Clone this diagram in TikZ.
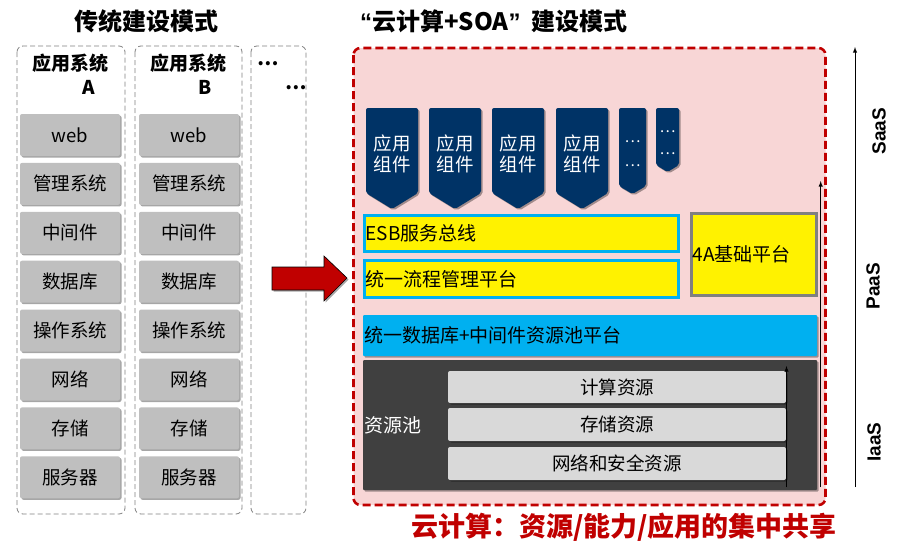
\documentclass[tikz,border=0pt]{standalone}
\usepackage{fontspec}
\setmainfont{Noto Sans CJK SC}
\newfontfamily\lat{Liberation Sans}
\usetikzlibrary{shadows}

\definecolor{boxgray}{RGB}{191,191,191}
\definecolor{edgegray}{RGB}{128,128,128}
\definecolor{cloudpink}{RGB}{248,214,214}
\definecolor{cloudred}{RGB}{192,0,0}
\definecolor{compnavy}{RGB}{0,51,102}
\definecolor{skyblue}{RGB}{0,176,240}
\definecolor{poolgray}{RGB}{64,64,64}
\definecolor{resgray}{RGB}{217,217,217}

\begin{document}
\begin{tikzpicture}[x=1pt,y=-1pt,
  softshadow/.style={drop shadow={shadow xshift=1.5pt,shadow yshift=-1.5pt,opacity=0.35,fill=black}},
  colbox/.style={draw=edgegray,line width=0.8pt,dash pattern=on 5pt off 3pt,rounded corners=6pt},
  cell/.style={fill=boxgray,minimum width=100pt,minimum height=42pt,inner sep=0pt,rounded corners=2pt,softshadow,font=\fontsize{18.5}{20}\selectfont},
  head/.style={inner sep=0pt,font=\bfseries\fontsize{19}{20}\selectfont},
  title/.style={inner sep=0pt,font=\bfseries\fontsize{24}{26}\selectfont},
  comp/.style={fill=compnavy,rounded corners=2pt,softshadow},
  comptext/.style={text=white,align=center,inner sep=0pt,font=\fontsize{18.5}{21}\selectfont},
  bar/.style={inner xsep=1pt,inner ysep=0pt,align=left,softshadow,font=\fontsize{19}{21}\selectfont},
  layer/.style={rotate=90,inner sep=0pt,font=\lat\bfseries\fontsize{19}{20}\selectfont}]
  \useasboundingbox (0,0) rectangle (902,549);

  % traditional mode
  \node[title] (oldtitle) at (146,21) {传统建设模式};
  \draw[colbox] (17,46) rectangle (125,514);
  \draw[colbox] (135,46) rectangle (242,514);
  \draw[colbox] (251,46) rectangle (306,514);

  \node[head] (headA) at (70,63) {应用系统};
  \node[head] (labA) at (89,87) {A};
  \node[head] (headB) at (188,63) {应用系统};
  \node[head] (labB) at (205,87) {B};
  \node[head] (dotsC1) at (268,64) {…};
  \node[head] (dotsC2) at (296,88) {…};

  \foreach \t [count=\i] in {web,管理系统,中间件,数据库,操作系统,网络,存储,服务器} {
    \node[cell] (a\i) at (70,135+48.9*\i-48.9) {\t};
    \node[cell] (b\i) at (189,135+48.9*\i-48.9) {\t};
  }

  % big arrow
  \path[fill=cloudred,draw=black,line width=0.6pt,softshadow]
    (272,267) -- (324,267) -- (324,256) -- (347,278) -- (324,301) -- (324,290) -- (272,290) -- cycle;

  % cloud + SOA mode
  \node[title,anchor=west] (newtitle) at (360,21) {{\lat\bfseries “}云计算+SOA{\lat\bfseries ”}\hspace{11pt}建设模式};
  \draw[draw=cloudred,fill=cloudpink,line width=2.6pt,dash pattern=on 8pt off 4pt,rounded corners=7pt]
    (353.5,48) rectangle (825.5,505);

  \foreach \x [count=\i] in {366,429,492,556} {
    \path[comp] (\x,108) -- (\x+52,108) -- (\x+52,193) -- (\x+26,209) -- (\x,193) -- cycle;
    \node[comptext] (comp\i) at (\x+26,153.5) {应用\\组件};
  }
  \path[comp] (619,108) -- (646,108) -- (646,186) -- (632.5,194) -- (619,186) -- cycle;
  \node[comptext,font=\fontsize{15}{24}\selectfont] (comp5) at (632.5,154) {…\\…};
  \path[comp] (656,108) -- (679,108) -- (679,165) -- (667.5,172) -- (656,165) -- cycle;
  \node[comptext,font=\fontsize{15}{22}\selectfont] (comp6) at (667.5,143) {…\\…};

  \node[bar,draw=skyblue,line width=3pt,fill=yellow,text width=312pt,minimum height=36pt] (esb) at (521.5,233.5) {ESB服务总线};
  \node[bar,draw=skyblue,line width=3pt,fill=yellow,text width=312pt,minimum height=37pt] (flow) at (521.5,279) {统一流程管理平台};
  \node[bar,draw=edgegray,line width=3pt,fill=yellow,text width=123pt,minimum height=82pt] (aaaa) at (754,254.5) {4A基础平台};
  \node[bar,fill=skyblue,rounded corners=1pt,text width=452pt,minimum height=41pt] (dbbar) at (590,335.5) {统一数据库+中间件资源池平台};
  \node[bar,fill=poolgray,text=white,rounded corners=1pt,text width=452pt,minimum height=130pt] (pool) at (590,425) {资源池};

  \node[cell,fill=resgray,minimum width=338pt,minimum height=32pt] (cpu) at (617,387) {计算资源};
  \node[cell,fill=resgray,minimum width=338pt,minimum height=33pt] (disk) at (617,424.5) {存储资源};
  \node[cell,fill=resgray,minimum width=338pt,minimum height=33pt] (net) at (617,463.5) {网络和安全资源};

  % layer arrows
  \coordinate (base1) at (786.5,487);
  \coordinate (top1) at (786.5,366);
  \coordinate (base2) at (820.7,487);
  \coordinate (top2) at (820.7,181);
  \coordinate (base3) at (855,487);
  \coordinate (top3) at (855,47);
  \draw[-latex,line width=0.9pt] (base1) -- (top1);
  \draw[-latex,line width=0.9pt] (base2) -- (top2);
  \draw[-latex,line width=0.9pt] (base3) -- (top3);

  \node[layer] (saas) at (879,131) {SaaS};
  \node[layer] (paas) at (873,286) {PaaS};
  \node[layer] (iaas) at (874,442) {IaaS};

  \node[anchor=west,inner sep=0pt,text=cloudred,font=\bfseries\fontsize{27}{30}\selectfont] (slogan) at (411,527) {云计算：资源/能力/应用的集中共享};
\end{tikzpicture}
\end{document}
